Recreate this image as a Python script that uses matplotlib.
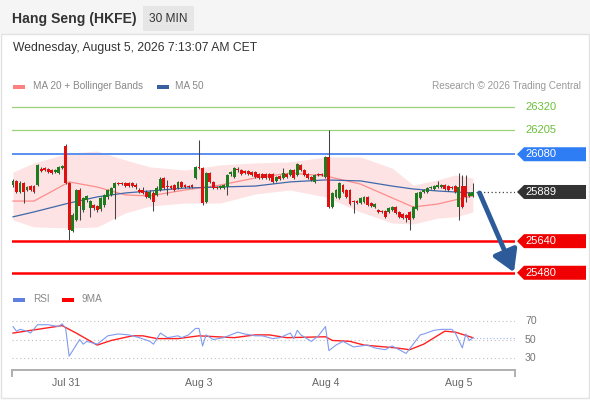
import numpy as np
import matplotlib
matplotlib.use("Agg")
import matplotlib.pyplot as plt
from matplotlib.patches import Rectangle, Polygon, FancyArrowPatch
from matplotlib.lines import Line2D
from matplotlib.transforms import blended_transform_factory

plt.rcParams['font.family'] = ['Liberation Sans', 'DejaVu Sans']

# ---- data (30 min candles) ----
opens = [25924, 25945, 25889, 25935, 25899, 25919, 25919, 25924, 26005, 26010,
         26005, 26000, 25990, 25985, 26010, 26122, 25935, 25692, 25747, 25899,
         25798, 25849, 25808, 25823, 25818, 25803, 25823, 25864, 25874, 25909,
         25935, 25935, 25935, 25935, 25935, 25924, 25899, 25899, 25889, 25859,
         25884, 25874, 25899, 25960, 25919, 25919, 25924, 25909, 25940, 25924,
         25919, 25924, 25960, 26016, 26010, 25838, 25985, 25940, 25914, 25909,
         25909, 25914, 25980, 25965, 26005, 26000, 25995, 25995, 25990, 25990,
         25980, 25980, 25980, 25980, 25980, 25945, 25970, 25960, 25980, 25975,
         26000, 25975, 26026, 26000, 25980, 25965, 25940, 25980, 25980, 25965,
         26066, 25813, 25864, 25859, 25924, 25899, 25899, 25843, 25843, 25833,
         25838, 25864, 25833, 25813, 25798, 25793, 25793, 25788, 25798, 25813,
         25788, 25778, 25773, 25788, 25757, 25803, 25859, 25889, 25889, 25909,
         25904, 25914, 25914, 25924, 25919, 25914, 25919, 25813, 25919, 25919,
         25869, 25869]
closes = [25945, 25889, 25935, 25889, 25914, 25899, 25889, 26026, 25995, 26000,
          25990, 25985, 26000, 26016, 26021, 25935, 25697, 25773, 25899, 25818,
          25859, 25869, 25843, 25808, 25798, 25859, 25874, 25899, 25909, 25935,
          25929, 25929, 25919, 25919, 25919, 25914, 25889, 25884, 25864, 25889,
          25838, 25909, 25955, 25909, 25914, 25909, 25899, 25940, 25914, 25914,
          25914, 25914, 26016, 26010, 25833, 25985, 25940, 25909, 25909, 25919,
          25924, 25975, 25990, 26010, 26000, 25980, 25985, 25980, 25975, 25965,
          25960, 25960, 25960, 25960, 25940, 25965, 25955, 25985, 25965, 26000,
          25960, 26031, 26000, 25975, 25960, 25950, 25975, 25975, 25975, 26066,
          25813, 25884, 25899, 25935, 25889, 25864, 25828, 25838, 25833, 25859,
          25864, 25823, 25818, 25828, 25788, 25788, 25763, 25808, 25813, 25783,
          25763, 25757, 25757, 25747, 25813, 25884, 25889, 25899, 25909, 25914,
          25919, 25924, 25924, 25904, 25899, 25909, 25889, 25914, 25813, 25864,
          25884, 25889]
highs = [25955, 25950, 25945, 25940, 25919, 25924, 25924, 26031, 26016, 26016,
         26010, 26005, 26005, 26021, 26026, 26132, 25940, 25783, 25904, 25909,
         25864, 25874, 25849, 25828, 25823, 25864, 25879, 25904, 25914, 25940,
         25940, 25940, 25940, 25940, 25940, 25935, 25909, 25914, 25899, 25899,
         25894, 25919, 25965, 25965, 25950, 25924, 25929, 25945, 25945, 25929,
         25924, 25929, 26021, 26152, 26016, 25990, 25990, 25945, 25919, 25924,
         25929, 25980, 25995, 26016, 26016, 26005, 26000, 26000, 25995, 25995,
         25985, 25985, 25985, 25985, 25985, 25970, 25975, 26010, 25985, 26005,
         26005, 26036, 26031, 26005, 25985, 25970, 25980, 25985, 25985, 26071,
         26203, 25889, 25904, 25940, 25929, 25904, 25904, 25849, 25849, 25864,
         25869, 25869, 25838, 25833, 25803, 25798, 25798, 25813, 25818, 25818,
         25793, 25783, 25778, 25793, 25818, 25889, 25894, 25904, 25914, 25919,
         25924, 25945, 25929, 25929, 25924, 25919, 25924, 25985, 25975, 25975,
         25889, 25935]
lows = [25914, 25884, 25884, 25833, 25894, 25894, 25884, 25919, 25990, 25995,
        25985, 25980, 25985, 25980, 26005, 25929, 25646, 25687, 25742, 25747,
        25788, 25838, 25763, 25798, 25788, 25793, 25813, 25854, 25869, 25752,
        25924, 25924, 25914, 25914, 25914, 25904, 25884, 25879, 25859, 25854,
        25793, 25869, 25894, 25904, 25874, 25904, 25894, 25904, 25909, 25909,
        25909, 25909, 25955, 26005, 25823, 25833, 25935, 25904, 25904, 25904,
        25904, 25874, 25970, 25960, 25990, 25975, 25980, 25975, 25970, 25960,
        25955, 25955, 25955, 25950, 25935, 25940, 25950, 25955, 25960, 25970,
        25955, 25970, 25995, 25970, 25955, 25945, 25935, 25970, 25970, 25960,
        25808, 25808, 25859, 25854, 25884, 25859, 25823, 25783, 25828, 25828,
        25833, 25818, 25813, 25808, 25783, 25783, 25757, 25783, 25793, 25778,
        25757, 25752, 25737, 25697, 25752, 25798, 25854, 25884, 25884, 25904,
        25899, 25909, 25909, 25899, 25894, 25904, 25884, 25747, 25808, 25838,
        25864, 25864]

# moving averages / bands, sampled at these candle positions
band_idx = [0, 6, 16, 24, 32, 39, 49, 59, 69, 79, 89, 99, 108, 114, 121, 126, 131]
ma20 = [25843, 25843, 25940, 25914, 25874, 25869, 25899, 25924, 25960, 25985,
        25970, 25929, 25859, 25813, 25828, 25849, 25869]
ma50 = [25763, 25788, 25833, 25864, 25884, 25894, 25909, 25914, 25919, 25940,
        25950, 25945, 25919, 25904, 25894, 25889, 25884]
bb_upper = [25990, 26036, 26086, 26096, 26051, 26016, 26000, 26026, 26036, 26041,
            26066, 26066, 26010, 25924, 25950, 25975, 25960]
bb_lower = [25747, 25712, 25707, 25712, 25783, 25818, 25833, 25833, 25879, 25899,
            25864, 25788, 25732, 25727, 25757, 25763, 25788]

rsi_idx = [0, 1, 2, 4, 5, 7, 10, 13, 14, 15, 16, 19, 20, 21, 24, 27, 30, 33, 36, 39,
           40, 42, 44, 47, 48, 50, 52, 53, 54, 55, 57, 60, 62, 64, 66, 69, 71, 74, 76, 79,
           80, 81, 82, 85, 87, 89, 90, 92, 94, 97, 99, 101, 103, 106, 108, 110, 112, 114, 116, 117,
           120, 122, 125, 126, 128, 129, 130, 131]
rsi = [64, 59, 61, 59, 57, 66, 66, 64, 67, 62, 32, 50, 45, 48, 45, 54, 56, 55, 52, 48,
       45, 57, 52, 54, 52, 55, 62, 62, 43, 55, 50, 52, 55, 58, 56, 54, 54, 51, 52, 57,
       51, 60, 55, 48, 54, 64, 38, 44, 48, 42, 43, 44, 41, 39, 43, 39, 35, 45, 55, 56,
       60, 61, 61, 57, 41, 56, 49, 52]
ma9_idx = [0, 7, 14, 18, 24, 28, 34, 37, 41, 47, 53, 63, 69, 73, 78, 89, 91, 96, 100,
           109, 113, 117, 123, 126, 131]
ma9 = [57, 61, 65, 57, 44, 49, 54, 54, 51, 51, 54, 52, 55, 55, 52, 53, 49, 48, 44,
       41, 39, 45, 59, 58, 52]

resistances = [26320, 26205, 26080]
supports = [25640, 25480]
last_price = 25889
rsi_levels = [70, 50, 30]
day_idx = [15, 53, 89, 127]
day_labels = ['Jul 31', 'Aug 3', 'Aug 4', 'Aug 5']

W, H = 590, 400
GREEN = '#1e7b1e'
RED = '#e01010'


def fx(x):
    return x / W


def fy(y):
    return 1 - y / H


fig = plt.figure(figsize=(W / 100, H / 100), dpi=100)

# header strip + frame
fig.add_artist(Rectangle((0, fy(34)), 1, 34 / H, transform=fig.transFigure,
                         facecolor='#f5f5f5', edgecolor='none'))
fig.add_artist(Rectangle((fx(1), fy(398)), fx(588), (398 - 34) / H, transform=fig.transFigure,
                         facecolor='none', edgecolor='#e2e2e2', lw=1))
fig.text(fx(12), fy(19), 'Hang Seng (HKFE)', fontsize=10.1, fontweight='bold',
         color='#333333', va='center')
fig.add_artist(Rectangle((fx(143), fy(31)), fx(51), 25 / H, transform=fig.transFigure,
                         facecolor='#e6e6e6', edgecolor='none'))
fig.text(fx(168.5), fy(19), '30 MIN', fontsize=8.6, color='#333333', va='center', ha='center')
fig.text(fx(13), fy(48), 'Wednesday, August 5, 2026 7:13:07 AM CET', fontsize=8.7,
         color='#333333', va='center')

# legends
LEG = 7.2
fig.add_artist(Rectangle((fx(13), fy(88.5)), fx(12), 4 / H, transform=fig.transFigure,
                         facecolor='#ff8080', edgecolor='none'))
fig.text(fx(33), fy(86), 'MA 20 + Bollinger Bands', fontsize=LEG, color='#888888', va='center')
fig.add_artist(Rectangle((fx(157), fy(88.5)), fx(12), 4 / H, transform=fig.transFigure,
                         facecolor='#3a5f9f', edgecolor='none'))
fig.text(fx(175), fy(86), 'MA 50', fontsize=LEG, color='#888888', va='center')
fig.text(fx(581), fy(86), 'Research \u00a9 2026 Trading Central', fontsize=LEG,
         color='#999999', va='center', ha='right')

fig.add_artist(Rectangle((fx(13), fy(301.5)), fx(12), 4 / H, transform=fig.transFigure,
                         facecolor='#6080e0', edgecolor='none'))
fig.text(fx(33), fy(299), 'RSI', fontsize=LEG, color='#888888', va='center')
fig.add_artist(Rectangle((fx(62), fy(301.5)), fx(12), 4 / H, transform=fig.transFigure,
                         facecolor='#ff0000', edgecolor='none'))
fig.text(fx(82), fy(299), '9MA', fontsize=LEG, color='#888888', va='center')

# ---- price panel ----
n = len(closes)
xlim = (-0.28, 143.0)
ax = fig.add_axes([fx(12), fy(285), fx(503), (285 - 95) / H])
ax.set_xlim(*xlim)
ax.set_ylim(25418, 26380)
ax.axis('off')

ax.fill_between(band_idx, bb_lower, bb_upper, color='#fde3e3', lw=0, zorder=1)
ax.plot(band_idx, ma20, color='#ff8c8c', lw=0.9, zorder=2)
ax.plot(band_idx, ma50, color='#3f68aa', lw=0.9, zorder=2)

for lv in resistances[:2]:
    ax.axhline(lv, color='#9ad27a', lw=0.9, zorder=1)
ax.axhline(resistances[2], color='#5b8ff0', lw=1.4, zorder=1)
for lv in supports:
    ax.axhline(lv, color='#ff0000', lw=1.8, zorder=1)

x = np.arange(n)
o = np.array(opens)
c = np.array(closes)
up = c >= o
ax.vlines(x, lows, highs, color='#444444', lw=0.75, zorder=3)
body_lo = np.minimum(o, c)
body_h = np.maximum(np.abs(c - o), 6)
ax.bar(x, body_h, bottom=body_lo, width=0.82,
       color=np.where(up, GREEN, RED), edgecolor='none', zorder=4)

ax.plot([n - 1 + 0.8, xlim[1]], [last_price, last_price], color='#444444',
        lw=0.9, ls=(0, (1, 2)), zorder=2)

arrow = FancyArrowPatch((n - 1 + 1.9, last_price - 5), (xlim[1] - 0.3, supports[1] + 2),
                        arrowstyle='-|>,head_width=0.45,head_length=0.75', mutation_scale=17,
                        color='#2d5b9a', lw=3.5, zorder=5, clip_on=False,
                        shrinkA=0, shrinkB=0)
ax.add_patch(arrow)

# price labels on the right
tr = blended_transform_factory(fig.transFigure, ax.transData)
half = 7 * (26380 - 25418) / 190.0


def tag(level, color):
    pts = [(fx(517), level), (fx(524), level + half), (fx(586), level + half),
           (fx(586), level - half), (fx(524), level - half)]
    fig.add_artist(Polygon(pts, closed=True, transform=tr, facecolor=color,
                           edgecolor='none', clip_on=False))
    fig.text(fx(525.5), level, str(level), transform=tr, fontsize=8.0, color='white', va='center')


for lv in resistances[:2]:
    fig.text(fx(525), lv, str(lv), transform=tr, fontsize=8.0, color='#6abf3a', va='center')
tag(resistances[2], '#2f7df5')
tag(last_price, '#333333')
for lv in supports:
    tag(lv, '#f00000')

# ---- RSI panel ----
axr = fig.add_axes([fx(12), fy(366), fx(503), 56 / H])
axr.set_xlim(*xlim)
axr.set_ylim(21.4, 81.9)
axr.axis('off')
for lv in rsi_levels:
    axr.axhline(lv, color='#c0c0c0', lw=0.8, ls=(0, (1, 2.5)))
    fig.text(fx(525), lv, str(lv), transform=blended_transform_factory(fig.transFigure, axr.transData),
             fontsize=7.6, color='#777777', va='center')
axr.plot(ma9_idx, ma9, color='#ff2020', lw=1.0)
axr.plot(rsi_idx, rsi, color='#7f9cf0', lw=0.8)
axr.plot([rsi_idx[-1], xlim[1]], [rsi[-1], rsi[-1]], color='#9fb4f0', lw=0.8, ls=(0, (1, 2)))

# bottom bracket axis
fig.add_artist(Line2D([fx(12), fx(515)], [fy(370), fy(370)], transform=fig.transFigure,
                      color='#b0b0b0', lw=1.4))
for xe in (12, 515):
    fig.add_artist(Line2D([fx(xe), fx(xe)], [fy(370), fy(376)], transform=fig.transFigure,
                          color='#b0b0b0', lw=1.4))
for di, lab in zip(day_idx, day_labels):
    axr.text(di, (366 - 383) / 56, lab, transform=axr.get_xaxis_transform(),
             ha='center', va='center', fontsize=7.6, color='#666666')

fig.savefig('out.png', dpi=100)
